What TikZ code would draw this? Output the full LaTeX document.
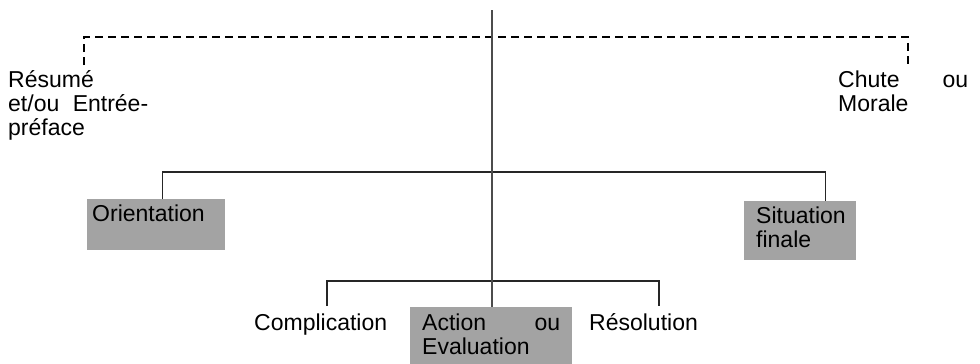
\documentclass[tikz,border=0pt]{standalone}
\usepackage{fontspec}
\setmainfont{Liberation Sans}
\begin{document}
\begin{tikzpicture}[x=1pt,y=-1pt,
  txt/.style={inner sep=0pt, anchor=base west, align=left, font=\fontsize{23}{24}\selectfont},
  shadebox/.style={fill=black!36, inner ysep=0pt, anchor=north west, align=left, font=\fontsize{23}{24}\selectfont},
  solidline/.style={line width=1.3pt, draw=black!85},
  mainline/.style={line width=1.5pt, draw=black!70},
  dashline/.style={line width=1.6pt, dash pattern=on 8pt off 5pt},
]
\useasboundingbox (0,0) rectangle (980,364);
% text nodes (base = baseline of the last line)
\node[txt] (resume) at (8,135) {Résumé\\\hbox to 140pt{et/ou\hfill Entrée-}\\préface};
\node[txt] (chute) at (838,111) {\hbox to 130pt{Chute\hfill ou}\\Morale};
\node[shadebox, inner xsep=5pt, text width=128pt, text height=22pt, text depth=29pt] (orient) at (87,199) {Orientation};
\node[shadebox, inner xsep=12pt, text width=88pt, text height=22pt, text depth=37pt] (sit) at (744,201) {Situation\\finale};
\node[shadebox, inner xsep=12pt, text width=138pt, text height=23pt, text depth=35pt] (action) at (410,307) {\hbox to 138pt{Action\hfill ou}\\Evaluation};
\node[txt] (compl) at (254,330) {Complication};
\node[txt] (resol) at (589,330) {Résolution};
% coordinates
\coordinate (top) at (492,10);
\coordinate (dl) at (84,65);
\coordinate (dr) at (908,66);
\coordinate (cl) at (327,306);
\coordinate (cr) at (659,306);
% connectors
\draw[dashline] (dl) -- ++(0,-28) -| (dr);
\draw[solidline] ([xshift=6pt]orient.north) -- ++(0,-27) -| ([xshift=25pt]sit.north);
\draw[solidline] (cl) -- ++(0,-25) -| (cr);
\draw[mainline] (top) -- (top |- action.north);
\end{tikzpicture}
\end{document}
